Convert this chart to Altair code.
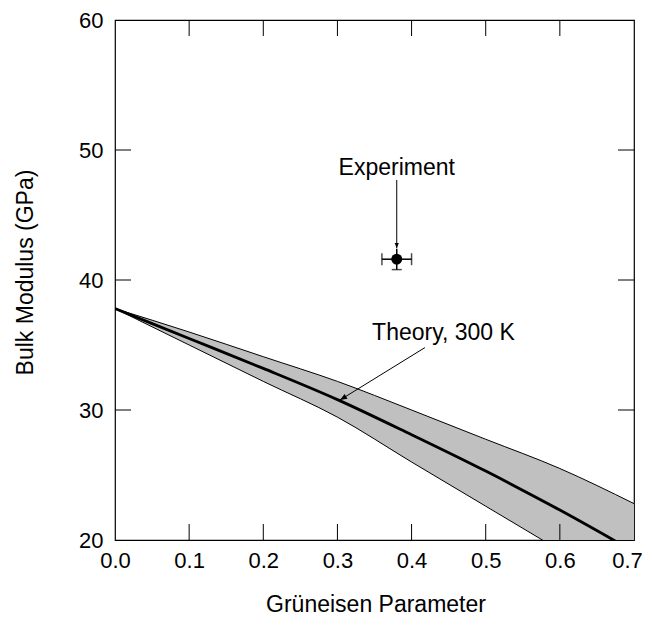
import altair as alt
import pandas as pd

# ---- data ----
gamma = [0.0, 0.1, 0.2, 0.3, 0.4, 0.5, 0.6, 0.7]
upper = [37.8, 36.0, 34.1, 32.2, 30.0, 27.75, 25.5, 22.8]
middle = [37.8, 35.5, 33.2, 30.8, 28.1, 25.3, 22.3, 19.1]
lower = [37.8, 35.0, 32.2, 29.45, 26.0, 22.6, 19.2, 15.8]

exp_x = [0.38]
exp_y = [41.6]
exp_xerr = [0.02]
exp_yerr = [0.8]

x_ticks = [0.1, 0.2, 0.3, 0.4, 0.5, 0.6]
y_ticks = [30, 40, 50]
x_labels = [0.0, 0.1, 0.2, 0.3, 0.4, 0.5, 0.6, 0.7]
y_labels = [20, 30, 40, 50, 60]

label_text = ["Experiment", "Theory, 300 K"]
label_x = [0.38, 0.443]
label_y = [48.6, 35.9]

# arrow 1: Experiment, arrow 2: Theory
exp_arrow = {"x1": [0.38], "y1": [47.7], "x2": [0.38], "y2": [42.45], "a": [0]}
thy_arrow = {"x1": [0.418], "y1": [34.8], "x2": [0.3035], "y2": [30.77], "a": [58.5]}

FONT = "Liberation Sans"
W, H = 519, 520
INTERP = "monotone"

band = pd.DataFrame({"g": gamma, "up": upper, "mid": middle, "lo": lower})
exp = pd.DataFrame({"x": exp_x, "y": exp_y,
                    "x1": [exp_x[0] - exp_xerr[0]], "x2": [exp_x[0] + exp_xerr[0]],
                    "y1": [exp_y[0] - exp_yerr[0]], "y2": [exp_y[0] + exp_yerr[0]]})
labels = pd.DataFrame({"t": label_text, "x": label_x, "y": label_y})
xt = pd.DataFrame({"v": x_ticks})
yt = pd.DataFrame({"v": y_ticks})

xs = alt.Scale(domain=[0, 0.7], nice=False, zero=False)
ys = alt.Scale(domain=[20, 60], nice=False, zero=False)

xaxis = alt.Axis(values=x_labels, format=".1f", ticks=False, domain=False, grid=False,
                 labelFont=FONT, labelFontSize=22, labelColor="black", labelPadding=10,
                 labelOffset={"condition": {"test": "datum.value > 0.69", "value": -7},
                              "value": 0},
                 title="Grüneisen Parameter", titleFont=FONT, titleFontSize=23,
                 titleFontWeight="normal", titleColor="black",
                 titleBaseline="middle", titleY=64, titleX=W / 2 + 1, labelFlush=False)
yaxis = alt.Axis(values=y_labels, format="d", ticks=False, domain=False, grid=False,
                 labelFont=FONT, labelFontSize=22, labelColor="black", labelPadding=12,
                 title="Bulk Modulus (GPa)", titleFont=FONT, titleFontSize=23,
                 titleFontWeight="normal", titleColor="black",
                 titleAngle=-90, titleBaseline="middle", titleAlign="center",
                 titleX=-90, titleY=252, labelFlush=False)

base = alt.Chart(band)

area = base.mark_area(color="#c0c0c0", opacity=1, clip=True, interpolate=INTERP).encode(
    x=alt.X("g:Q", scale=xs, axis=xaxis),
    y=alt.Y("up:Q", scale=ys, axis=yaxis),
    y2="lo:Q",
)
up_line = base.mark_line(color="black", strokeWidth=1, clip=True, interpolate=INTERP).encode(
    x=alt.X("g:Q", scale=xs), y=alt.Y("up:Q", scale=ys))
lo_line = base.mark_line(color="black", strokeWidth=1, clip=True, interpolate=INTERP).encode(
    x=alt.X("g:Q", scale=xs), y=alt.Y("lo:Q", scale=ys))
mid_line = base.mark_line(color="black", strokeWidth=2.8, clip=True, interpolate=INTERP).encode(
    x=alt.X("g:Q", scale=xs), y=alt.Y("mid:Q", scale=ys))

ebase = alt.Chart(exp)
xerr = ebase.mark_rule(color="black", strokeWidth=1.5).encode(
    x=alt.X("x1:Q", scale=xs), x2="x2:Q", y=alt.Y("y:Q", scale=ys))
yerr = ebase.mark_rule(color="black", strokeWidth=1.5).encode(
    x=alt.X("x:Q", scale=xs), y=alt.Y("y1:Q", scale=ys), y2="y2:Q")
capl = ebase.mark_tick(color="black", thickness=1.5, size=12, orient="vertical").encode(
    x=alt.X("x1:Q", scale=xs), y=alt.Y("y:Q", scale=ys))
capr = ebase.mark_tick(color="black", thickness=1.5, size=12, orient="vertical").encode(
    x=alt.X("x2:Q", scale=xs), y=alt.Y("y:Q", scale=ys))
capb = ebase.mark_tick(color="black", thickness=1.5, size=10, orient="horizontal").encode(
    x=alt.X("x:Q", scale=xs), y=alt.Y("y1:Q", scale=ys))
dot = ebase.mark_circle(color="black", opacity=1, size=120).encode(
    x=alt.X("x:Q", scale=xs), y=alt.Y("y:Q", scale=ys))


def arrow(d, head_size):
    c = alt.Chart(pd.DataFrame(d))
    shaft = c.mark_rule(color="black", strokeWidth=1).encode(
        x=alt.X("x1:Q", scale=xs), y=alt.Y("y1:Q", scale=ys), x2="x2:Q", y2="y2:Q")
    head = c.mark_point(shape="M0,0 L-0.4,-1 L0.4,-1 Z", filled=True, color="black",
                        opacity=1, size=head_size).encode(
        x=alt.X("x2:Q", scale=xs), y=alt.Y("y2:Q", scale=ys),
        angle=alt.Angle("a:Q", scale=None))
    return shaft + head


exp_arr = arrow(exp_arrow, 110)
thy_arr = arrow(thy_arrow, 200)

texts = alt.Chart(labels).mark_text(font=FONT, fontSize=23, color="black",
                                    align="center", baseline="middle").encode(
    x=alt.X("x:Q", scale=xs), y=alt.Y("y:Q", scale=ys), text="t:N")

tick_len = 16
xt_b = alt.Chart(xt).mark_rule(color="black", strokeWidth=1).encode(
    x=alt.X("v:Q", scale=xs), y=alt.value(H), y2=alt.value(H - tick_len))
xt_t = alt.Chart(xt).mark_rule(color="black", strokeWidth=1).encode(
    x=alt.X("v:Q", scale=xs), y=alt.value(0), y2=alt.value(tick_len))
yt_l = alt.Chart(yt).mark_rule(color="black", strokeWidth=1).encode(
    y=alt.Y("v:Q", scale=ys), x=alt.value(0), x2=alt.value(tick_len))
yt_r = alt.Chart(yt).mark_rule(color="black", strokeWidth=1).encode(
    y=alt.Y("v:Q", scale=ys), x=alt.value(W), x2=alt.value(W - tick_len))

chart = alt.layer(
    area, up_line, lo_line, mid_line,
    xerr, yerr, capl, capr, capb, dot,
    exp_arr, thy_arr, texts,
    xt_b, xt_t, yt_l, yt_r,
).properties(
    width=W, height=H,
    autosize=alt.AutoSizeParams(type="none"),
    padding={"left": 107, "top": 12, "right": 10, "bottom": 78},
    background="white",
).configure_view(stroke="black", strokeWidth=1.2)

chart.save("out.html", embed_options={"renderer": "svg", "actions": False})
